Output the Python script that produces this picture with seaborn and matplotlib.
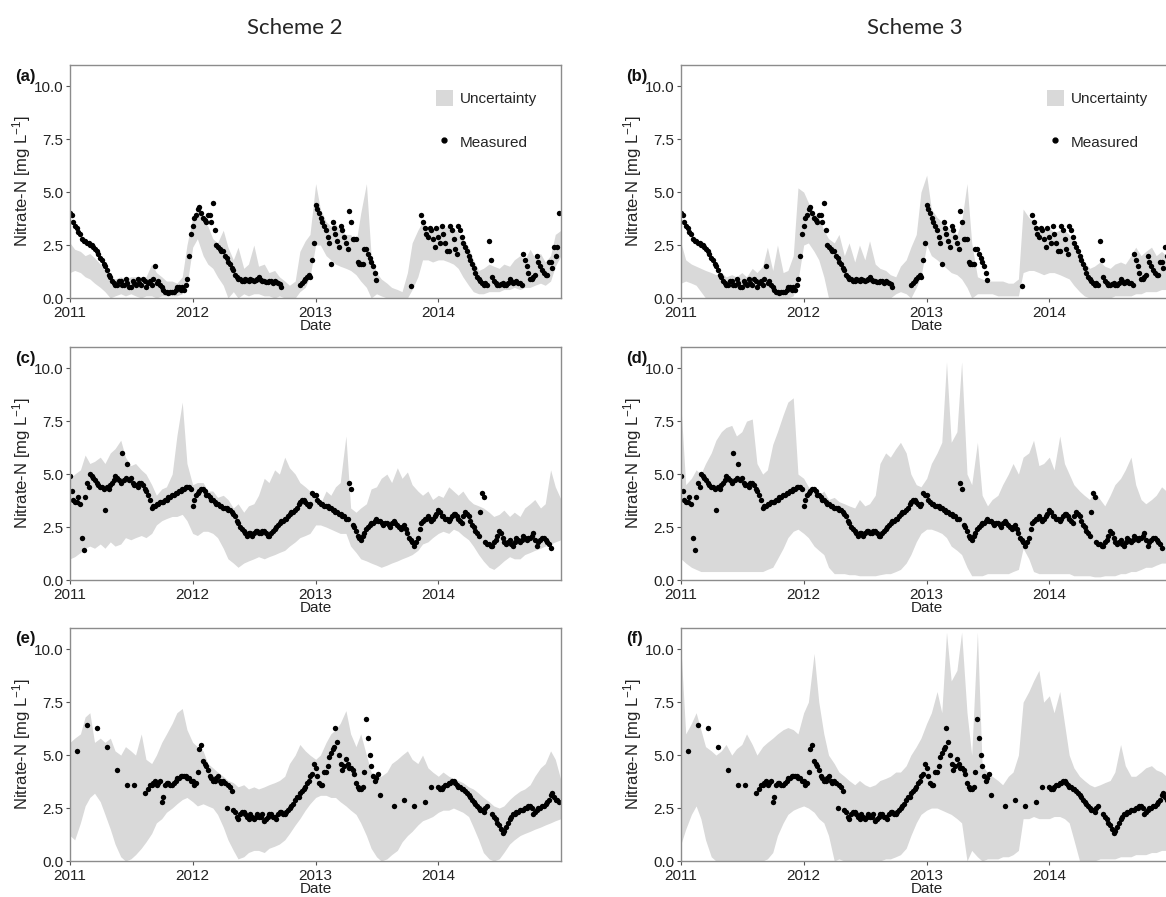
import numpy as np
import pandas as pd
import seaborn as sns
import matplotlib.pyplot as plt
from matplotlib.patches import Patch
from matplotlib.lines import Line2D

sns.set_theme(style='white')
plt.rcParams['font.family'] = ['Liberation Sans', 'DejaVu Sans']
plt.rcParams['mathtext.fontset'] = 'custom'
plt.rcParams['mathtext.rm'] = 'Liberation Sans'
plt.rcParams['mathtext.default'] = 'regular'

nan = np.nan

# Anos del eje x
years = [2011, 2012, 2013, 2014]
year_labels = ['2011', '2012', '2013', '2014']
y_ticks = [0.0, 2.5, 5.0, 7.5, 10.0]
titles = ['Scheme 2', 'Scheme 3']

# Medidos, dias 1, 6, 11, 16, 21 y 26 de cada mes (2011-2014), dos meses por linea
meas_site1 = [
    4.0, 3.9, 3.6, 3.4, 3.3, 3.1, 3.0, 2.8, 2.7, 2.7, 2.6, 2.6,
    2.5, 2.5, 2.4, 2.3, 2.2, 2.1, 1.9, 1.8, 1.6, 1.5, 1.3, 1.1,
    1.0, 0.8, 0.7, 0.6, 0.6, 0.8, 0.8, 0.6, 0.6, 0.9, 0.7, 0.5,
    0.5, 0.8, 0.7, 0.6, 0.9, 0.7, 0.6, 0.9, 0.8, 0.5, 0.7, 0.8,
    0.6, 0.9, 1.5, 0.7, 0.8, 0.6, 0.5, 0.4, 0.3, 0.3, 0.25, 0.3,
    0.3, 0.3, 0.4, 0.5, 0.5, 0.4, 0.5, 0.4, 0.6, 0.9, 2.0, 3.0,
    3.4, 3.8, 3.9, 4.2, 4.3, 4.0, 3.8, 3.7, 3.6, 3.9, 3.9, 3.6,
    4.5, 3.2, 2.5, 2.4, 2.3, 2.2, 2.2, 2.0, 1.9, 1.7, 1.6, 1.4,
    1.3, 1.1, 1.0, 0.9, 0.9, 0.8, 0.8, 0.9, 0.85, 0.8, 0.9, 0.85,
    0.8, 0.85, 0.9, 1.0, 0.85, 0.8, 0.8, 0.75, 0.75, 0.8, 0.8, 0.7,
    0.8, 0.75, 0.7, 0.65, 0.5, nan, nan, nan, nan, nan, nan, nan,
    nan, nan, nan, 0.6, 0.7, 0.8, 0.9, 1.0, 1.1, 1.0, 1.8, 2.6,
    4.4, 4.2, 4.0, 3.8, 3.6, 3.4, 3.2, 2.9, 2.6, 1.6, 3.6, 3.3,
    3.0, 2.7, 2.4, 3.4, 3.2, 2.9, 2.6, 2.3, 4.1, 3.6, 2.8, 2.8,
    2.8, 1.7, 1.6, 1.6, 1.6, 2.3, 2.3, 2.1, 1.9, 1.7, 1.5, 1.2,
    0.85, nan, nan, nan, nan, nan, nan, nan, nan, nan, nan, nan,
    nan, nan, nan, nan, nan, nan, nan, nan, 0.55, nan, nan, nan,
    nan, nan, 3.9, 3.6, 3.3, 3.0, 2.9, 3.3, 3.2, 2.8, 2.4, 3.3,
    2.9, 2.6, 3.4, 3.0, 2.6, 2.2, 2.2, 3.4, 3.2, 2.8, 2.3, 2.1,
    3.4, 3.2, 2.9, 2.6, 2.4, 2.2, 2.0, 1.8, 1.6, 1.4, 1.2, 1.0,
    0.9, 0.8, 0.7, 0.6, 0.7, 0.6, 2.7, 1.8, 1.0, 0.8, 0.7, 0.6,
    0.6, 0.65, 0.7, 0.6, 0.6, 0.7, 0.9, 0.8, 0.7, 0.75, 0.8, 0.7,
    0.7, 0.6, 2.1, 1.8, 1.5, 1.2, 0.9, 0.9, 1.0, 1.1, 2.0, 1.7,
    1.5, 1.3, 1.2, 1.1, 1.1, 1.7, 1.7, 1.4, 2.4, 2.0, 2.4, 4.0,
]
meas_site2 = [
    4.9, 4.2, 3.8, 3.7, 3.7, 3.9, 3.6, 2.0, 1.4, 3.9, 4.6, 4.4,
    5.0, 4.9, 4.8, 4.7, 4.6, 4.5, 4.4, 4.4, 4.3, 3.3, 4.4, 4.3,
    4.5, 4.6, 4.7, 4.9, 4.8, 4.7, 4.6, 6.0, 4.7, 4.8, 5.5, 4.7,
    4.8, 4.6, 4.5, 4.5, 4.4, 4.6, 4.6, 4.5, 4.3, 4.2, 4.0, 3.8,
    3.4, 3.5, 3.5, 3.6, 3.6, 3.7, 3.7, 3.7, 3.8, 3.8, 3.9, 3.9,
    4.0, 4.0, 4.1, 4.1, 4.2, 4.2, 4.3, 4.3, 4.4, 4.4, 4.4, 4.3,
    3.5, 3.8, 4.0, 4.1, 4.2, 4.3, 4.3, 4.2, 4.0, 4.0, 3.9, 3.8,
    3.8, 3.7, 3.6, 3.6, 3.5, 3.5, 3.4, 3.4, 3.4, 3.3, 3.3, 3.2,
    3.1, 3.0, 2.8, 2.7, 2.5, 2.4, 2.3, 2.2, 2.1, 2.2, 2.2, 2.1,
    2.2, 2.3, 2.3, 2.2, 2.2, 2.3, 2.3, 2.2, 2.1, 2.1, 2.2, 2.3,
    2.4, 2.5, 2.6, 2.7, 2.8, 2.8, 2.9, 2.9, 3.0, 3.1, 3.2, 3.2,
    3.3, 3.4, 3.6, 3.7, 3.8, 3.8, 3.7, 3.6, 3.5, 3.6, 4.1, 4.0,
    4.0, 3.8, 3.7, 3.6, 3.6, 3.5, 3.5, 3.5, 3.4, 3.4, 3.3, 3.3,
    3.2, 3.2, 3.1, 3.1, 3.0, 3.0, 2.9, 2.9, 4.6, 4.3, 2.6, 2.5,
    2.3, 2.1, 2.0, 1.9, 2.1, 2.2, 2.4, 2.5, 2.6, 2.7, 2.7, 2.8,
    2.9, 2.8, 2.8, 2.7, 2.6, 2.7, 2.7, 2.6, 2.5, 2.7, 2.8, 2.7,
    2.6, 2.5, 2.4, 2.5, 2.6, 2.4, 2.2, 2.0, 1.9, 1.8, 1.6, 1.8,
    2.0, 2.4, 2.7, 2.8, 2.9, 2.9, 3.0, 2.9, 2.8, 2.9, 3.0, 3.1,
    3.3, 3.2, 3.0, 3.0, 2.9, 2.9, 2.8, 2.9, 3.0, 3.1, 3.1, 3.0,
    2.9, 2.8, 2.7, 3.0, 3.2, 3.1, 3.0, 2.8, 2.6, 2.5, 2.3, 2.2,
    2.1, 3.2, 4.1, 3.9, 1.8, 1.7, 1.7, 1.6, 1.6, 1.8, 1.9, 2.1,
    2.3, 2.2, 2.0, 1.8, 1.7, 1.8, 1.9, 1.7, 1.6, 1.8, 2.0, 1.9,
    1.8, 1.9, 2.1, 2.0, 1.9, 2.0, 2.0, 2.1, 2.2, 1.9, 1.6, 1.8,
    1.9, 2.0, 2.0, 1.9, 1.8, 1.7, 1.5, nan, nan, nan, nan, nan,
]
meas_site3 = [
    nan, nan, nan, nan, 5.2, nan, nan, nan, nan, nan, 6.4, nan,
    nan, nan, nan, nan, 6.3, nan, nan, nan, nan, nan, 5.4, nan,
    nan, nan, nan, nan, 4.3, nan, nan, nan, nan, nan, 3.6, nan,
    nan, nan, 3.6, nan, nan, nan, nan, nan, 3.2, nan, 3.4, 3.6,
    3.6, 3.7, 3.8, 3.6, 3.7, 3.8, 2.8, 3.0, 3.6, 3.7, 3.7, 3.6,
    3.6, 3.7, 3.8, 3.9, 3.9, 4.0, 4.0, 4.0, 4.0, 3.9, 3.9, 3.8,
    3.8, 3.6, 3.7, 4.2, 5.3, 5.5, 4.7, 4.6, 4.5, 4.3, 4.0, 3.9,
    3.8, 3.8, 3.9, 4.0, 3.8, 3.7, 3.8, 3.7, 2.5, 3.6, 3.5, 3.3,
    2.4, 2.3, 2.1, 2.0, 2.2, 2.3, 2.3, 2.2, 2.1, 2.0, 2.2, 2.1,
    2.0, 2.1, 2.2, 2.1, 2.1, 2.2, 1.9, 2.0, 2.1, 2.2, 2.2, 2.1,
    2.1, 2.0, 2.2, 2.3, 2.3, 2.2, 2.2, 2.3, 2.4, 2.5, 2.6, 2.7,
    2.9, 3.0, 3.0, 3.2, 3.3, 3.4, 3.5, 3.7, 3.8, 4.0, 4.1, 4.6,
    4.4, 4.0, 3.7, 3.6, 3.6, 4.2, 4.2, 4.5, 4.9, 5.1, 5.3, 5.4,
    6.3, 5.6, 5.0, 4.6, 4.3, 4.5, 4.8, 4.6, 4.4, 4.4, 4.3, 4.1,
    3.7, 3.5, 3.4, 3.4, 3.5, 4.2, 6.7, 5.8, 5.0, 4.5, 4.0, 3.8,
    3.9, 4.1, 3.1, nan, nan, nan, nan, nan, nan, nan, 2.6, nan,
    nan, nan, nan, nan, 2.9, nan, nan, nan, nan, nan, 2.6, nan,
    nan, nan, nan, nan, 2.8, nan, nan, nan, 3.5, nan, nan, nan,
    3.5, 3.4, 3.4, 3.5, 3.6, 3.6, 3.7, 3.7, 3.8, 3.8, 3.7, 3.6,
    3.5, 3.5, 3.4, 3.4, 3.3, 3.2, 3.1, 3.0, 2.9, 2.8, 2.7, 2.6,
    2.5, 2.4, 2.4, 2.3, 2.5, 2.6, nan, nan, 2.2, 2.1, 2.0, 1.8,
    1.7, 1.5, 1.3, 1.4, 1.6, 1.8, 2.0, 2.1, 2.2, 2.2, 2.3, 2.3,
    2.4, 2.4, 2.4, 2.5, 2.5, 2.6, 2.6, 2.5, 2.2, 2.3, 2.4, 2.5,
    2.5, 2.6, 2.6, 2.7, 2.8, 2.9, 3.1, 3.2, 3.0, 2.9, 2.9, 2.8,
]

# Bandas de incertidumbre, dias 1 y 15 de cada mes hasta 2015-01-01
band_a_lo = [
    1.2, 1.3, 1.2, 1.0, 0.9, 0.7, 0.5, 0.3, 0.0, 0.1, 0.2, 0.1, 0.2, 0.1, 0.0, 0.1, 0.1, 0.0, 0.1, 0.1, 0.1, 0.1, 0.2, 0.6,
    2.4, 2.8, 2.0, 1.6, 1.4, 1.0, 0.6, 0.0, 0.3, 0.0, 0.2, 0.1, 0.2, 0.2, 0.1, 0.1, 0.0, 0.1, 0.0, 0.0, 0.0, 0.3, 0.5, 1.0,
    2.5, 2.5, 2.0, 1.8, 1.6, 1.5, 1.4, 1.3, 1.1, 0.8, 0.5, 0.0, 0.2, 0.1, 0.0, 0.0, 0.0, 0.0, 0.0, 0.4, 1.0, 1.8, 1.8, 1.7,
    1.8, 1.8, 1.7, 1.6, 1.4, 1.0, 0.6, 0.3, 0.2, 0.2, 0.3, 0.3, 0.3, 0.4, 0.4, 0.5, 0.4, 0.5, 0.5, 0.6, 0.7, 0.6, 0.8, 1.5,
    2.0,
]
band_a_hi = [
    2.6, 2.3, 2.2, 2.0, 2.1, 1.9, 1.6, 1.3, 1.0, 0.9, 1.0, 0.9, 1.0, 1.0, 0.9, 1.0, 1.6, 1.2, 1.0, 0.8, 0.8, 0.7, 1.0, 2.5,
    3.8, 4.2, 3.6, 3.4, 2.8, 2.6, 3.2, 2.4, 1.8, 2.4, 1.4, 1.6, 2.5, 1.5, 1.6, 1.2, 1.3, 1.0, 0.8, 0.6, 0.8, 2.2, 2.7, 3.0,
    5.4, 4.2, 3.6, 3.4, 3.5, 3.2, 3.0, 3.0, 2.6, 4.0, 5.4, 2.0, 1.2, 0.9, 0.7, 0.5, 0.4, 0.3, 1.2, 2.6, 3.2, 3.6, 3.2, 3.3,
    3.4, 3.3, 3.4, 3.3, 3.1, 2.8, 2.4, 1.8, 1.3, 1.4, 1.6, 1.5, 1.4, 1.6, 1.5, 1.8, 2.0, 1.8, 2.3, 1.9, 2.1, 1.7, 2.0, 3.0,
    3.2,
]
band_b_lo = [
    0.7, 0.8, 0.7, 0.6, 0.3, 0.0, 0.0, 0.0, 0.0, 0.0, 0.0, 0.0, 0.0, 0.0, 0.0, 0.0, 0.0, 0.0, 0.0, 0.0, 0.0, 0.0, 0.1, 0.8,
    2.5, 2.6, 2.2, 1.8, 1.0, 0.0, 0.0, 0.0, 0.0, 0.0, 0.0, 0.0, 0.0, 0.0, 0.0, 0.0, 0.0, 0.0, 0.2, 0.3, 0.2, 0.0, 0.5, 1.0,
    2.5, 2.0, 1.8, 1.6, 1.4, 1.2, 1.1, 0.9, 0.5, 0.0, 0.2, 0.2, 0.2, 0.2, 0.1, 0.1, 0.1, 0.1, 0.1, 1.2, 1.3, 1.3, 1.2, 1.1,
    1.2, 1.2, 1.1, 1.0, 0.9, 0.6, 0.3, 0.1, 0.0, 0.0, 0.0, 0.0, 0.0, 0.1, 0.1, 0.1, 0.1, 0.2, 0.2, 0.3, 0.3, 0.3, 0.4, 0.4,
    0.4,
]
band_b_hi = [
    2.6, 1.8, 1.6, 1.5, 1.4, 1.3, 1.2, 1.1, 1.2, 1.0, 1.1, 1.0, 1.2, 1.0, 1.4, 1.2, 1.5, 2.4, 1.3, 2.5, 1.2, 1.3, 2.0, 5.2,
    5.0, 4.5, 4.0, 3.8, 3.2, 2.8, 2.6, 3.0, 2.0, 2.6, 1.7, 2.5, 1.8, 2.7, 1.6, 1.4, 1.3, 1.1, 1.0, 1.5, 1.8, 2.4, 3.0, 5.0,
    5.8, 4.2, 3.8, 3.6, 3.4, 3.2, 3.0, 3.6, 5.4, 2.6, 1.0, 0.9, 0.8, 0.8, 0.8, 0.8, 0.7, 0.7, 0.9, 4.2, 3.8, 3.6, 3.3, 3.2,
    3.3, 3.1, 3.2, 3.2, 3.0, 2.6, 2.2, 1.7, 1.4, 1.5, 1.7, 1.5, 1.4, 1.6, 1.7, 1.6, 2.0, 2.4, 2.0, 2.2, 2.4, 2.0, 2.2, 2.0,
    2.2,
]
band_c_lo = [
    1.0, 1.1, 1.3, 1.5, 1.6, 1.5, 1.7, 1.5, 1.8, 1.6, 1.7, 2.0, 1.9, 2.0, 2.1, 2.0, 2.2, 2.6, 2.8, 2.9, 3.0, 3.0, 3.1, 2.8,
    2.2, 2.1, 2.3, 2.3, 2.2, 2.0, 1.5, 1.0, 0.8, 0.6, 0.8, 0.9, 1.0, 1.1, 1.0, 1.1, 1.2, 1.3, 1.4, 1.6, 1.8, 2.0, 2.1, 2.2,
    2.6, 2.6, 2.5, 2.4, 2.3, 2.2, 2.2, 1.6, 1.3, 1.0, 0.9, 0.8, 0.7, 0.6, 0.7, 0.8, 0.9, 1.0, 1.1, 1.2, 1.4, 1.7, 1.8, 2.0,
    2.2, 2.3, 2.2, 2.4, 2.3, 2.1, 1.9, 1.6, 1.2, 0.9, 0.6, 0.5, 0.7, 0.9, 1.1, 1.0, 1.0, 1.2, 1.3, 1.4, 1.5, 1.6, 1.7, 1.8,
    1.9,
]
band_c_hi = [
    4.8, 5.0, 5.2, 5.9, 5.5, 5.6, 5.8, 5.5, 6.0, 6.2, 6.6, 5.8, 5.4, 5.5, 5.2, 5.0, 4.5, 4.0, 4.3, 4.4, 5.0, 6.8, 8.4, 5.5,
    4.5, 4.6, 4.6, 4.2, 4.2, 3.9, 4.0, 3.8, 3.4, 3.6, 3.2, 3.5, 3.6, 4.0, 4.8, 4.6, 5.2, 5.0, 5.8, 5.3, 5.0, 4.6, 4.4, 4.2,
    3.8, 3.6, 4.2, 4.0, 4.4, 4.6, 6.8, 3.4, 3.2, 3.4, 3.6, 4.3, 4.4, 4.8, 5.0, 4.6, 5.3, 4.8, 5.1, 4.5, 4.2, 4.0, 4.2, 3.8,
    4.0, 3.9, 4.4, 4.2, 4.0, 4.2, 3.8, 3.6, 3.5, 3.4, 3.2, 3.0, 3.1, 3.3, 3.0, 3.2, 3.0, 3.4, 3.6, 3.8, 3.4, 3.6, 5.2, 4.4,
    3.8,
]
band_d_lo = [
    1.0, 0.8, 0.6, 0.5, 0.4, 0.4, 0.4, 0.4, 0.4, 0.4, 0.4, 0.4, 0.4, 0.4, 0.4, 0.4, 0.4, 0.5, 0.6, 1.0, 1.5, 2.0, 2.3, 2.4,
    2.2, 2.0, 1.6, 1.4, 1.2, 0.6, 0.3, 0.3, 0.3, 0.25, 0.25, 0.2, 0.2, 0.2, 0.2, 0.25, 0.3, 0.3, 0.4, 0.5, 0.8, 1.2, 1.8, 2.2,
    2.4, 2.4, 2.3, 2.2, 2.0, 1.6, 1.4, 1.2, 0.6, 0.2, 0.2, 0.2, 0.3, 0.3, 0.3, 0.3, 0.3, 0.4, 0.5, 1.5, 1.0, 0.4, 0.3, 0.3,
    0.3, 0.3, 0.3, 0.3, 0.3, 0.2, 0.2, 0.2, 0.2, 0.15, 0.15, 0.2, 0.2, 0.2, 0.3, 0.3, 0.4, 0.4, 0.5, 0.6, 0.6, 0.7, 0.8, 0.8,
    0.9,
]
band_d_hi = [
    8.2, 4.5, 4.8, 5.2, 5.0, 5.5, 6.0, 6.6, 7.0, 7.2, 7.3, 6.8, 7.0, 7.5, 7.6, 5.5, 5.0, 5.2, 6.4, 7.0, 7.8, 8.4, 8.6, 5.0,
    4.8, 4.4, 4.2, 4.0, 4.2, 3.8, 3.9, 3.7, 3.6, 3.5, 3.4, 3.8, 3.5, 3.6, 4.0, 5.5, 6.0, 5.8, 6.2, 6.5, 6.0, 5.0, 4.5, 4.4,
    4.8, 5.5, 6.0, 6.5, 10.3, 6.5, 7.0, 10.3, 5.0, 4.5, 6.5, 4.0, 3.5, 3.8, 4.0, 4.5, 5.0, 5.5, 5.0, 5.8, 6.0, 6.6, 5.4, 5.5,
    5.8, 5.2, 6.8, 5.5, 5.0, 4.5, 4.2, 4.0, 3.8, 4.2, 3.8, 3.5, 4.0, 4.5, 4.8, 5.2, 5.8, 4.5, 3.8, 3.6, 3.8, 4.0, 4.4, 4.2,
    4.0,
]
band_e_lo = [
    1.2, 1.0, 1.8, 2.6, 3.0, 3.2, 2.8, 2.2, 1.5, 0.8, 0.2, 0.0, 0.1, 0.3, 0.6, 0.9, 1.3, 1.8, 2.0, 2.3, 2.5, 2.7, 2.9, 3.0,
    2.8, 2.6, 2.7, 2.6, 2.5, 2.2, 1.6, 1.0, 0.5, 0.1, 0.2, 0.4, 0.5, 0.5, 0.4, 0.6, 0.7, 0.8, 1.0, 1.3, 1.7, 2.0, 2.4, 2.7,
    3.0, 3.1, 3.1, 3.0, 3.0, 2.8, 2.6, 2.4, 2.2, 1.8, 1.2, 0.6, 0.2, 0.0, 0.1, 0.3, 0.5, 0.9, 1.2, 1.4, 1.7, 1.9, 2.0, 2.1,
    2.3, 2.4, 2.4, 2.5, 2.4, 2.3, 2.1, 1.6, 1.0, 0.4, 0.1, 0.0, 0.1, 0.4, 0.8, 1.0, 1.2, 1.3, 1.4, 1.5, 1.6, 1.7, 1.8, 1.9,
    2.0,
]
band_e_hi = [
    5.6, 5.8, 6.0, 6.8, 7.0, 5.6, 5.8, 5.6, 5.8, 5.2, 5.0, 5.4, 5.2, 5.0, 6.0, 4.8, 4.6, 5.0, 5.6, 6.0, 6.5, 7.0, 7.2, 6.2,
    5.6, 5.4, 5.2, 4.6, 4.4, 4.2, 4.0, 3.8, 3.7, 3.5, 3.6, 3.4, 3.5, 3.4, 3.5, 3.6, 3.7, 3.8, 4.0, 4.6, 5.0, 5.5, 5.2, 5.0,
    4.8, 5.0, 5.6, 6.0, 6.2, 6.5, 7.1, 6.0, 5.4, 6.0, 5.0, 4.2, 4.0, 4.0, 4.2, 4.6, 4.8, 5.0, 5.2, 4.8, 4.6, 5.0, 4.4, 4.2,
    4.0, 4.2, 4.0, 3.9, 3.8, 3.7, 3.5, 3.4, 3.2, 3.0, 2.8, 2.6, 2.5, 2.6, 2.9, 3.1, 3.3, 3.4, 3.6, 4.0, 4.4, 4.6, 5.2, 4.8,
    3.8,
]
band_f_lo = [
    0.8, 1.5, 2.2, 2.6, 2.0, 1.0, 0.2, 0.0, 0.0, 0.0, 0.0, 0.0, 0.0, 0.0, 0.0, 0.0, 0.0, 0.1, 0.4, 1.2, 1.8, 2.2, 2.4, 2.5,
    2.6, 2.5, 2.3, 2.0, 1.8, 1.2, 0.0, 0.1, 0.0, 0.0, 0.0, 0.0, 0.0, 0.0, 0.0, 0.0, 0.1, 0.1, 0.2, 0.3, 0.6, 1.2, 1.8, 2.2,
    2.4, 2.5, 2.5, 2.4, 2.3, 2.2, 2.0, 1.8, 0.0, 0.5, 0.2, 0.0, 0.1, 0.1, 0.1, 0.2, 0.2, 0.3, 0.5, 2.0, 2.0, 2.1, 2.0, 2.0,
    2.0, 2.1, 2.1, 2.0, 1.8, 1.0, 0.0, 0.0, 0.0, 0.0, 0.1, 0.1, 0.1, 0.1, 0.2, 0.2, 0.2, 0.3, 0.3, 0.3, 0.4, 0.4, 0.5, 0.5,
    0.5,
]
band_f_hi = [
    10.0, 6.0, 6.5, 7.0, 6.2, 5.4, 5.2, 5.0, 5.2, 5.5, 5.0, 5.3, 5.5, 6.0, 5.5, 5.0, 5.4, 5.6, 5.8, 6.0, 6.2, 6.3, 6.2, 6.0,
    7.0, 7.5, 9.8, 7.5, 6.0, 5.0, 4.6, 4.2, 4.0, 3.8, 3.6, 3.8, 3.6, 3.5, 3.6, 3.8, 3.9, 4.0, 4.2, 4.2, 4.5, 5.0, 5.4, 5.8,
    6.5, 7.0, 8.0, 7.0, 10.8, 8.5, 9.0, 10.8, 7.0, 5.0, 10.8, 4.5, 4.2, 4.0, 3.8, 3.6, 4.0, 4.2, 5.0, 7.5, 8.0, 8.5, 9.0, 7.5,
    7.8, 7.0, 8.0, 6.5, 5.0, 4.4, 4.0, 3.8, 3.6, 3.5, 3.6, 3.7, 3.8, 4.2, 5.5, 4.5, 4.0, 4.0, 4.2, 4.4, 4.5, 4.3, 4.2, 4.0,
    4.0,
]

band_dates = pd.date_range('2011-01-01', '2015-01-01', freq='SMS')
meas_dates = [pd.Timestamp(y, m, d) for y in years for m in range(1, 13)
              for d in (1, 6, 11, 16, 21, 26)]

W, H = 1166, 897
fig = plt.figure(figsize=(W / 100, H / 100), dpi=100)

col_left = [70, 681]
row_top = [65, 347, 628]
ax_w, ax_h = 491, 233

grey = '#d9d9d9'
paneles = [
    ('(a)', 0, 0, meas_site1, band_a_lo, band_a_hi),
    ('(b)', 0, 1, meas_site1, band_b_lo, band_b_hi),
    ('(c)', 1, 0, meas_site2, band_c_lo, band_c_hi),
    ('(d)', 1, 1, meas_site2, band_d_lo, band_d_hi),
    ('(e)', 2, 0, meas_site3, band_e_lo, band_e_hi),
    ('(f)', 2, 1, meas_site3, band_f_lo, band_f_hi),
]

for etiqueta, fila, col, meas, lo, hi in paneles:
    x0 = col_left[col]
    y0 = row_top[fila]
    ax = fig.add_axes([x0 / W, 1 - (y0 + ax_h) / H, ax_w / W, ax_h / H])

    ax.fill_between(band_dates, lo, hi, color=grey, linewidth=0)
    df = pd.DataFrame({'Date': meas_dates, 'Nitrate': meas}).dropna()
    sns.scatterplot(data=df, x='Date', y='Nitrate', ax=ax, color='black',
                    s=15, linewidth=0, legend=False)

    ax.set_xlim(pd.Timestamp('2011-01-01'), pd.Timestamp('2015-01-01'))
    ax.set_ylim(0, 11)
    ax.set_xticks([pd.Timestamp(y, 1, 1) for y in years])
    ax.set_xticklabels(year_labels)
    ax.set_yticks(y_ticks)
    ax.set_yticklabels(['%.1f' % v for v in y_ticks])
    ax.tick_params(bottom=True, left=True, length=3, width=0.8, color='#555555',
                   labelsize=11, labelcolor='#222222')
    ax.tick_params(axis='x', pad=3)
    ax.tick_params(axis='y', pad=2)
    for s in ax.spines.values():
        s.set_color('#8c8c8c')
        s.set_linewidth(1.0)
    ax.set_xlabel('Date', fontsize=11, color='#222222', labelpad=-1)
    ax.set_ylabel('Nitrate-N [mg L$^{-1}$]', fontsize=12, color='#222222', labelpad=0)

    fig.text((x0 - 55) / W, 1 - (y0 + 11) / H, etiqueta, fontsize=12,
             fontweight='bold', ha='left', va='center', color='#111111')

    if fila == 0:
        handles = [Patch(facecolor=grey, edgecolor='none'),
                   Line2D([], [], marker='o', color='black', linestyle='none', markersize=3.5)]
        ax.legend(handles, ['Uncertainty', 'Measured'], loc='upper left',
                  bbox_to_anchor=(0.717, 0.951), frameon=False, fontsize=11,
                  labelspacing=1.8, handlelength=1.1, handleheight=1.2, handletextpad=0.5)

fig.text(295 / W, 1 - 28 / H, titles[0], fontsize=16, ha='center', va='center', family='Lato')
fig.text(915 / W, 1 - 28 / H, titles[1], fontsize=16, ha='center', va='center', family='Lato')

fig.savefig('out.png', dpi=100)
